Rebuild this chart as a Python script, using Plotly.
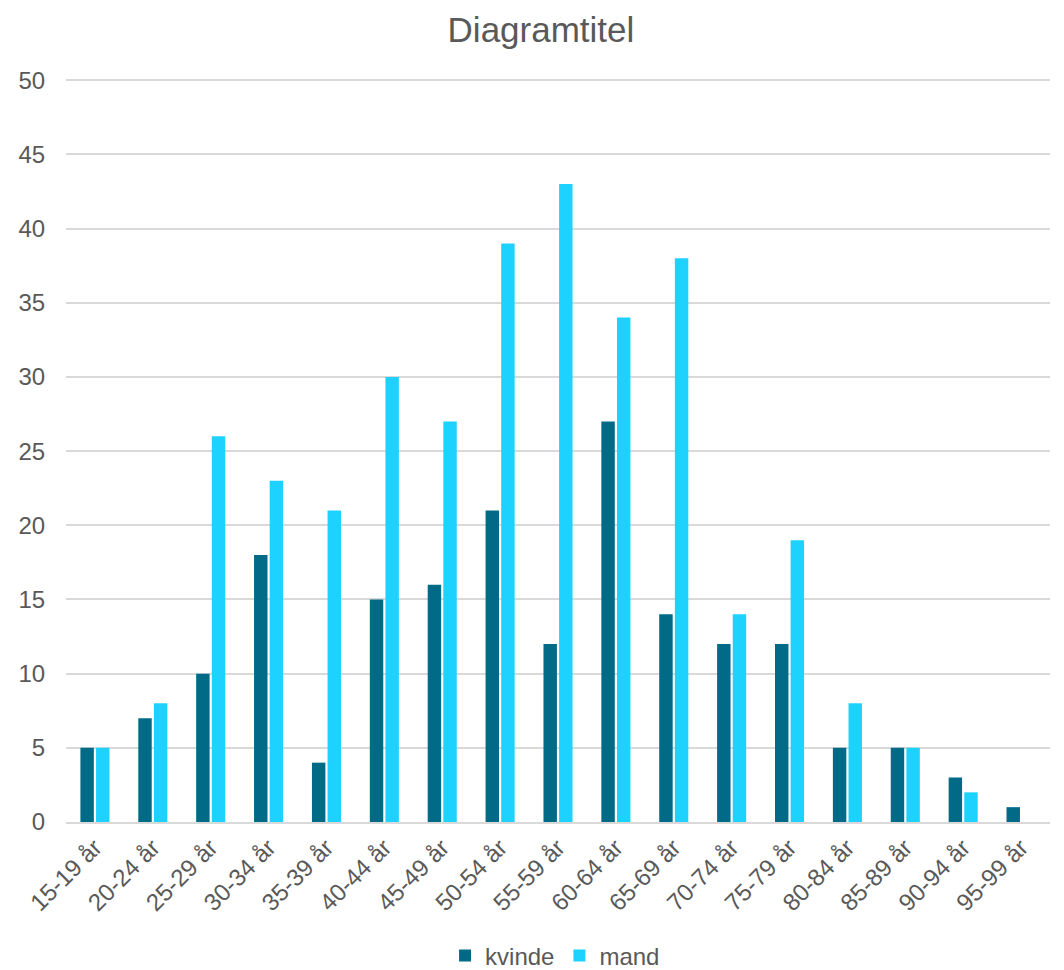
import plotly.graph_objects as go

categories = ["15-19 år", "20-24 år", "25-29 år", "30-34 år", "35-39 år", "40-44 år",
              "45-49 år", "50-54 år", "55-59 år", "60-64 år", "65-69 år", "70-74 år",
              "75-79 år", "80-84 år", "85-89 år", "90-94 år", "95-99 år"]
kvinde = [5, 7, 10, 18, 4, 15, 16, 21, 12, 27, 14, 12, 12, 5, 5, 3, 1]
mand = [5, 8, 26, 23, 21, 30, 27, 39, 43, 34, 38, 14, 19, 8, 5, 2, 0]

font = "Liberation Sans, Arial, sans-serif"
grey = "#595959"

fig = go.Figure()
fig.add_trace(go.Bar(name="kvinde", x=categories, y=kvinde, marker_color="#006A87",
                     marker_line_width=0))
fig.add_trace(go.Bar(name="mand", x=categories, y=mand, marker_color="#1ED2FF",
                     marker_line_width=0))

fig.update_layout(
    width=1056, height=962,
    paper_bgcolor="white", plot_bgcolor="white",
    font=dict(family=font, color=grey, size=24),
    title=dict(text="Diagramtitel", x=0.5047, xanchor="center", y=0.977, yanchor="middle",
               font=dict(size=35, color=grey, family=font)),
    barmode="group", bargap=0.46, bargroupgap=0.14,
    margin=dict(l=58, r=14, t=70, b=148, autoexpand=False),
    legend=dict(orientation="h", x=0.497, xanchor="center", y=-0.18, yanchor="middle",
                font=dict(size=24, color=grey), traceorder="normal", itemwidth=30),
    xaxis=dict(tickangle=-45, tickfont=dict(size=24, color=grey), showgrid=False,
               showline=True, linecolor="#D9D9D9", linewidth=2, ticks=""),
    yaxis=dict(range=[0, 50.15], dtick=5, showgrid=True, gridcolor="#D9D9D9", gridwidth=1.5,
               zeroline=False, tickfont=dict(size=24, color=grey),
               ticks="outside", ticklen=15, tickcolor="rgba(0,0,0,0)"),
)

fig.write_html("out.html")
